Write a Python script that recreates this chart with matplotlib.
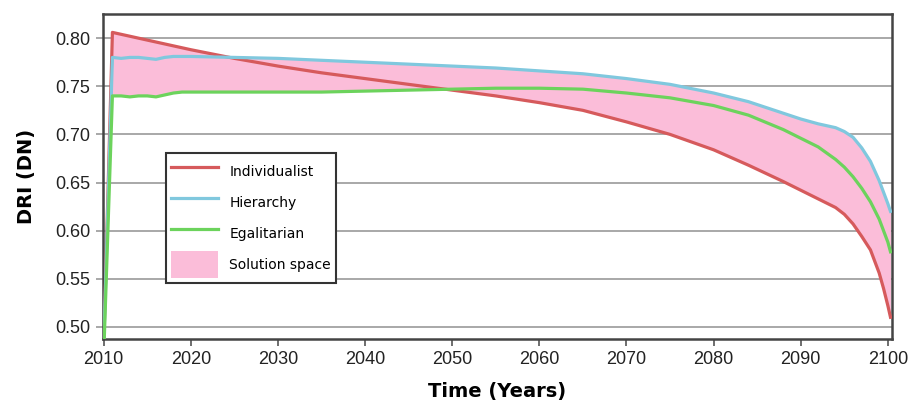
import matplotlib
matplotlib.use('Agg')
import matplotlib.pyplot as plt
import numpy as np

years = [2010, 2011, 2012, 2013, 2014, 2015, 2016, 2017, 2018, 2019, 2020,
         2025, 2030, 2035, 2040, 2045, 2050, 2055, 2060, 2065, 2070, 2075,
         2080, 2084, 2088, 2090, 2092, 2094, 2095, 2096, 2097, 2098, 2099,
         2099.5, 2100, 2100.3]

individualist = [0.48, 0.806, 0.804, 0.802, 0.800, 0.798, 0.796, 0.794, 0.792,
                 0.790, 0.788, 0.779, 0.771, 0.764, 0.758, 0.752, 0.746, 0.740,
                 0.733, 0.725, 0.713, 0.700, 0.684, 0.668, 0.651, 0.642, 0.633,
                 0.624, 0.617, 0.607, 0.594, 0.580, 0.556, 0.540, 0.522, 0.510]

hierarchy = [0.48, 0.780, 0.779, 0.780, 0.780, 0.779, 0.778, 0.780, 0.781,
             0.781, 0.781, 0.780, 0.779, 0.777, 0.775, 0.773, 0.771, 0.769,
             0.766, 0.763, 0.758, 0.752, 0.743, 0.734, 0.722, 0.716, 0.711,
             0.707, 0.703, 0.697, 0.686, 0.672, 0.652, 0.640, 0.628, 0.620]

egalitarian = [0.47, 0.740, 0.740, 0.739, 0.740, 0.740, 0.739, 0.741, 0.743,
               0.744, 0.744, 0.744, 0.744, 0.744, 0.745, 0.746, 0.747, 0.748,
               0.748, 0.747, 0.743, 0.738, 0.730, 0.720, 0.705, 0.696, 0.687,
               0.674, 0.666, 0.656, 0.644, 0.630, 0.612, 0.600, 0.588, 0.578]

x_ticks = [2010, 2020, 2030, 2040, 2050, 2060, 2070, 2080, 2090, 2100]
y_ticks = [0.50, 0.55, 0.60, 0.65, 0.70, 0.75, 0.80]

RED = '#d65a5c'
BLUE = '#80c8de'
GREEN = '#6cd35c'
PINK = '#fbbdd9'

series = np.array([individualist, hierarchy, egalitarian])
upper = series.max(axis=0)
lower = series.min(axis=0)

fig = plt.figure(figsize=(9.1, 4.03), dpi=100)
ax = fig.add_axes([0.113, 0.159, 0.867, 0.806])

ax.fill_between(years, lower, upper, color=PINK, lw=0, label='Solution space',
                zorder=2)
ax.plot(years, individualist, color=RED, lw=2.3, label='Individualist', zorder=3)
ax.plot(years, hierarchy, color=BLUE, lw=2.3, label='Hierarchy', zorder=3)
ax.plot(years, egalitarian, color=GREEN, lw=2.3, label='Egalitarian', zorder=3)

ax.set_xlim(2009.9, 2100.45)
ax.set_ylim(0.4875, 0.825)
ax.set_xticks(x_ticks)
ax.set_yticks(y_ticks)
ax.set_yticklabels(['{:.2f}'.format(v) for v in y_ticks])
ax.yaxis.grid(True, color='#9a9a9a', lw=1.2, zorder=1)
ax.set_axisbelow(True)
ax.tick_params(axis='both', labelsize=13, length=5, width=1.2, pad=4)
ax.tick_params(axis='x', colors='#555555', labelcolor='#222222')
ax.tick_params(axis='y', colors='#9a9a9a', labelcolor='#222222')
for label in ax.get_xticklabels() + ax.get_yticklabels():
    label.set_family('Liberation Sans')
for spine in ax.spines.values():
    spine.set_color('#444444')
    spine.set_linewidth(1.8)

ax.set_xlabel('Time (Years)', fontsize=14, fontweight='bold', labelpad=10)
ax.set_ylabel('DRI (DN)', fontsize=14, fontweight='bold', labelpad=14)

handles, labels = ax.get_legend_handles_labels()
order = [1, 2, 3, 0]
leg = ax.legend([handles[i] for i in order], [labels[i] for i in order],
                loc='upper left', bbox_to_anchor=(0.08, 0.572),
                borderaxespad=0, fontsize=10, handlelength=3.4,
                handleheight=2.6, labelspacing=0.3, fancybox=False,
                framealpha=1, edgecolor='#333333', borderpad=0.35,
                handletextpad=0.8)
leg.get_frame().set_linewidth(1.5)

fig.savefig('out.png', dpi=100)
